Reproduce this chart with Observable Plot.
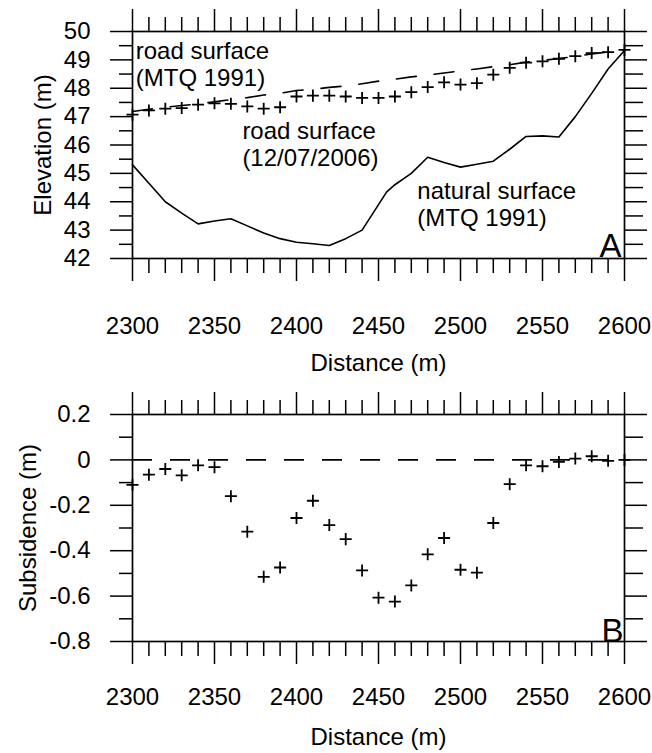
<!DOCTYPE html>
<html><head><meta charset="utf-8">
<script src="https://cdn.jsdelivr.net/npm/d3@7"></script>
<script src="https://cdn.jsdelivr.net/npm/@observablehq/plot@0.6"></script>
<style>
body{margin:0;background:#fff}
#chart svg{display:block}
</style>
</head><body><div id="chart"></div>
<script>
const distance = [2300,2310,2320,2330,2340,2350,2360,2370,2380,2390,2400,2410,2420,2430,2440,2450,2460,2470,2480,2490,2500,2510,2520,2530,2540,2550,2560,2570,2580,2590,2600];
const road2006 = [47.07,47.22,47.28,47.30,47.42,47.47,47.45,47.36,47.28,47.33,47.71,47.74,47.74,47.71,47.66,47.66,47.71,47.86,48.04,48.21,48.13,48.18,48.48,48.72,48.90,48.95,49.04,49.13,49.24,49.27,49.35];
const road1991 = [47.18,47.26,47.33,47.39,47.45,47.52,47.60,47.67,47.76,47.82,47.92,47.96,48.03,48.08,48.16,48.25,48.32,48.40,48.46,48.54,48.61,48.68,48.76,48.83,48.92,48.98,49.05,49.12,49.21,49.28,49.36];
const naturalDistance = [2300,2310,2320,2330,2340,2350,2360,2370,2380,2390,2400,2410,2420,2430,2440,2450,2455,2460,2470,2480,2490,2500,2510,2520,2530,2540,2550,2560,2570,2580,2590,2600];
const naturalElevation = [45.3,44.65,44.0,43.6,43.22,43.32,43.4,43.15,42.9,42.7,42.57,42.52,42.46,42.7,43.0,43.9,44.35,44.6,45.0,45.57,45.38,45.22,45.32,45.43,45.85,46.3,46.32,46.28,47.0,47.82,48.68,49.33];
const subsidence = [-0.11,-0.065,-0.04,-0.068,-0.024,-0.032,-0.16,-0.316,-0.515,-0.474,-0.256,-0.18,-0.287,-0.349,-0.487,-0.607,-0.624,-0.553,-0.416,-0.344,-0.484,-0.497,-0.278,-0.107,-0.024,-0.028,-0.009,0.006,0.016,-0.004,0.0];

const xMajor = [2300,2350,2400,2450,2500,2550,2600];
const xMinor = [2310,2320,2330,2340,2360,2370,2380,2390,2410,2420,2430,2440,2460,2470,2480,2490,2510,2520,2530,2540,2560,2570,2580,2590];
const elevMajor = [42,43,44,45,46,47,48,49,50];
const elevMinor = [42.5,43.5,44.5,45.5,46.5,47.5,48.5,49.5];
const subsMajor = [-0.8,-0.6,-0.4,-0.2,0,0.2];
const subsMinor = [-0.7,-0.5,-0.3,-0.1,0.1];

const annotationsA = [
  {text:"road surface\n(MTQ 1991)", x:2302, y:49.69},
  {text:"road surface\n(12/07/2006)", x:2367, y:46.90},
  {text:"natural surface\n(MTQ 1991)", x:2473.7, y:44.78}
];

const road = distance.map((d,i)=>({d, e2006:road2006[i], e1991:road1991[i], s:subsidence[i]}));
const natural = naturalDistance.map((d,i)=>({d, e:naturalElevation[i]}));

const FONT = '"Liberation Sans", Arial, Helvetica, sans-serif';
const SW = 1.5;
const fmtSubs = d => { const v = Math.round(d*10)/10; return v === 0 ? "0" : String(v); };

function frameAxes(yMajor, yMinor, xPad, yFmt) {
  return [
    Plot.frame({stroke:"black", strokeWidth:1.7}),
    Plot.axisX({anchor:"bottom", ticks:xMajor, tickSize:23, tickPadding:xPad, strokeWidth:SW, label:null, tickFormat:d=>String(d)}),
    Plot.axisX({anchor:"bottom", ticks:xMinor, tickSize:15, strokeWidth:SW, fill:"none", label:null}),
    Plot.axisX({anchor:"top", ticks:xMajor, tickSize:23, strokeWidth:SW, fill:"none", label:null}),
    Plot.axisX({anchor:"top", ticks:xMinor, tickSize:15, strokeWidth:SW, fill:"none", label:null}),
    Plot.axisY({anchor:"left", ticks:yMajor, tickSize:22, tickPadding:20, strokeWidth:SW, label:null, tickFormat:yFmt}),
    Plot.axisY({anchor:"left", ticks:yMinor, tickSize:13, strokeWidth:SW, fill:"none", label:null}),
    Plot.axisY({anchor:"right", ticks:yMajor, tickSize:22, strokeWidth:SW, fill:"none", label:null}),
    Plot.axisY({anchor:"right", ticks:yMinor, tickSize:18, strokeWidth:SW, fill:"none", label:null})
  ];
}

const plotA = Plot.plot({
  width:652, height:380,
  marginLeft:132, marginRight:28, marginTop:31, marginBottom:122,
  style:{fontFamily:FONT, fontSize:"24px", color:"black", background:"white", overflow:"visible"},
  x:{domain:[2300,2600]},
  y:{domain:[42,50]},
  marks:[
    ...frameAxes(elevMajor, elevMinor, 35, d=>String(d)),
    Plot.line(natural, {x:"d", y:"e", stroke:"black", strokeWidth:1.6}),
    Plot.line(road, {x:"d", y:"e1991", stroke:"black", strokeWidth:1.6, strokeDasharray:"20,18"}),
    Plot.dot(road, {x:"d", y:"e2006", symbol:"plus", r:3.95, stroke:"black", strokeWidth:1.8}),
    Plot.text(annotationsA, {x:"x", y:"y", text:"text", textAnchor:"start", lineAnchor:"top", lineHeight:1.125, fontSize:24, fill:"black"}),
    Plot.text(["A"], {frameAnchor:"bottom-right", textAnchor:"end", lineAnchor:"bottom", fontSize:33, dx:-3, dy:-1.4, fill:"black"}),
    Plot.text(["Elevation (m)"], {frameAnchor:"left", rotate:-90, textAnchor:"middle", lineAnchor:"bottom", dx:-81.5, fontSize:24, fill:"black"}),
    Plot.text(["Distance (m)"], {frameAnchor:"bottom", textAnchor:"middle", lineAnchor:"bottom", dy:112, fontSize:24, fill:"black"})
  ]
});

const plotB = Plot.plot({
  width:652, height:373,
  marginLeft:132, marginRight:28, marginTop:34, marginBottom:112,
  style:{fontFamily:FONT, fontSize:"24px", color:"black", background:"white", overflow:"visible"},
  x:{domain:[2300,2600]},
  y:{domain:[-0.8,0.2]},
  marks:[
    ...frameAxes(subsMajor, subsMinor, 23, fmtSubs),
    Plot.ruleY([0], {stroke:"black", strokeWidth:1.6, strokeDasharray:"20,18"}),
    Plot.dot(road, {x:"d", y:"s", symbol:"plus", r:3.95, stroke:"black", strokeWidth:1.8}),
    Plot.text(["B"], {frameAnchor:"bottom-right", textAnchor:"end", lineAnchor:"bottom", fontSize:33, dx:-1, dy:0.6, fill:"black"}),
    Plot.text(["Subsidence (m)"], {frameAnchor:"left", rotate:-90, textAnchor:"middle", lineAnchor:"bottom", dx:-97, fontSize:24, fill:"black"}),
    Plot.text(["Distance (m)"], {frameAnchor:"bottom", textAnchor:"middle", lineAnchor:"bottom", dy:103, fontSize:24, fill:"black"})
  ]
});

document.getElementById("chart").append(plotA, plotB);
</script>
</body></html>
